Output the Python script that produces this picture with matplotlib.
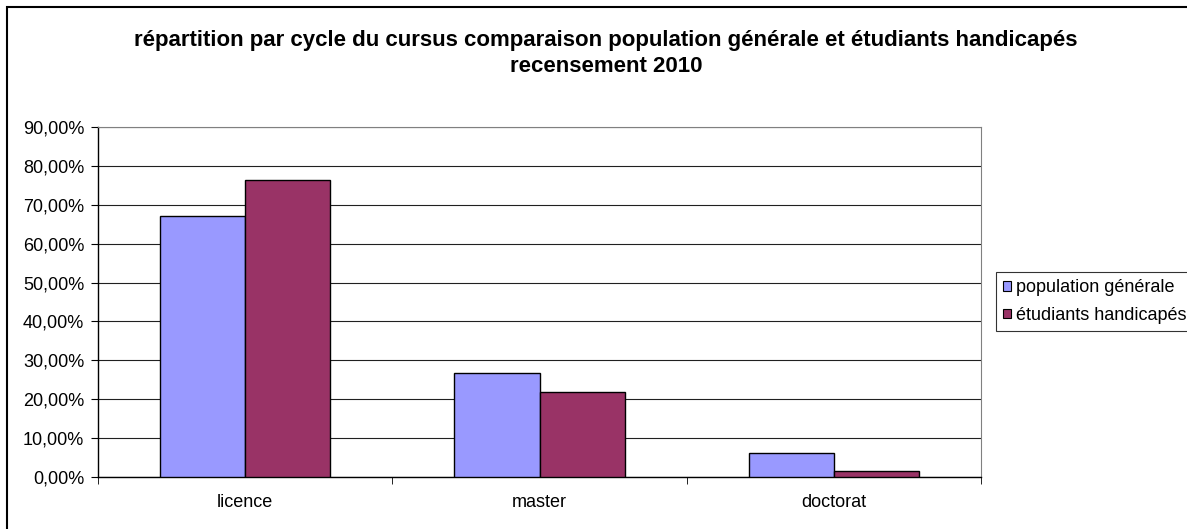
import matplotlib.pyplot as plt
import numpy as np
from matplotlib.patches import Patch, Rectangle

plt.rcParams["font.family"] = ["Liberation Sans", "DejaVu Sans"]

categories = ["licence", "master", "doctorat"]
population_generale = [67.1, 26.8, 6.1]
etudiants_handicapes = [76.3, 21.8, 1.6]
series_names = ["population générale", "étudiants handicapés"]
colors = ["#9999ff", "#993366"]
yticks = np.arange(0, 91, 10)

fig = plt.figure(figsize=(11.87, 5.29), dpi=100)
ax = fig.add_axes([98 / 1187, 1 - 477 / 529, (981 - 98) / 1187, (477 - 127) / 529])

x = np.arange(len(categories))
w = 0.289
ax.bar(x - w / 2, population_generale, w, color=colors[0], edgecolor="black", linewidth=1, zorder=3)
ax.bar(x + w / 2, etudiants_handicapes, w, color=colors[1], edgecolor="black", linewidth=1, zorder=3)

ax.set_xlim(-0.5, 2.5)
ax.set_ylim(0, 90)
ax.set_yticks(yticks)
ax.set_yticklabels([f"{v},00%" for v in yticks], fontsize=13)
ax.set_xticks(x)
ax.set_xticklabels(categories, fontsize=13)
ax.tick_params(axis="x", length=0, pad=12)
ax.set_xticks([-0.5, 0.5, 1.5, 2.5], minor=True)
ax.tick_params(axis="x", which="minor", length=5, direction="out")
ax.tick_params(axis="y", length=5, direction="out", pad=5)
ax.grid(axis="y", color="#202020", linewidth=0.8, zorder=0)

for s in ["top", "right"]:
    ax.spines[s].set_color("#808080")
    ax.spines[s].set_linewidth(0.8)
for s in ["left", "bottom"]:
    ax.spines[s].set_color("black")
    ax.spines[s].set_linewidth(1)

cx = 606 / 1187
fig.text(cx, 1 - 46 / 529, "répartition par cycle du cursus comparaison population générale et étudiants handicapés",
         ha="center", va="baseline", fontsize=16, fontweight="bold")
fig.text(cx, 1 - 72 / 529, "recensement 2010", ha="center", va="baseline", fontsize=16, fontweight="bold")

handles = [Patch(facecolor=c, edgecolor="black", linewidth=0.8) for c in colors]
leg = fig.legend(handles, series_names, loc="upper left", bbox_to_anchor=(996 / 1187, 1 - 272 / 529),
                 fontsize=13, frameon=True, fancybox=False, edgecolor="black",
                 handlelength=0.45, handleheight=0.45, handletextpad=0.25, borderpad=0.4,
                 labelspacing=0.6, borderaxespad=0)
leg.get_frame().set_linewidth(0.8)

fig.patches.append(Rectangle((7 / 1187, -0.1), 1.2, 1.1 - 7 / 529, transform=fig.transFigure,
                             fill=False, edgecolor="black", linewidth=1.5))

fig.savefig("out.png", dpi=100)
